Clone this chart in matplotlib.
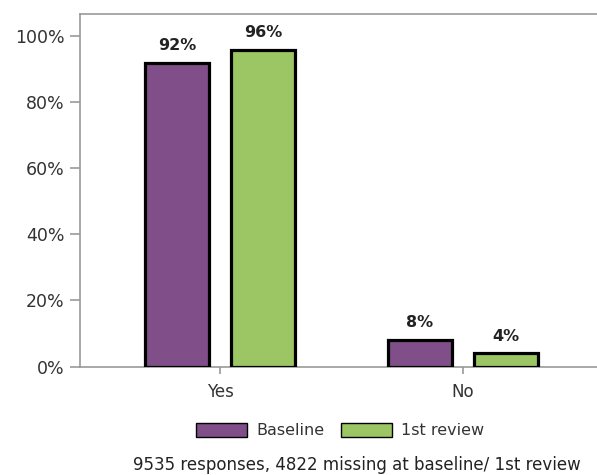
import numpy as np
import matplotlib
matplotlib.use("Agg")
import matplotlib.pyplot as plt

# Data
categories = ["Yes", "No"]
baseline = [92, 8]
first_review = [96, 4]
series_names = ["Baseline", "1st review"]
colors = ["#804E88", "#9BC663"]
footnote = "9535 responses, 4822 missing at baseline/ 1st review"

plt.rcParams["font.family"] = ["DejaVu Sans"]

fig = plt.figure(figsize=(5.97, 4.75), dpi=100)
ax = fig.add_axes([0.134, 0.2284, 0.866, 0.7421])

x = np.arange(len(categories))
offset = 0.177
width = 0.262

bars = []
for vals, off, col, name in zip([baseline, first_review], [-offset, offset], colors, series_names):
    b = ax.bar(x + off, vals, width=width, color=col, edgecolor="black",
               linewidth=2.3, label=name, zorder=3)
    bars.append(b)
    for rect, v in zip(b, vals):
        ax.annotate(f"{v}%", (rect.get_x() + rect.get_width() / 2, v),
                    xytext=(0, 7), textcoords="offset points",
                    ha="center", va="bottom", fontsize=11.5, fontweight="bold",
                    color="#222222")

ax.set_xlim(-0.576, 1.551)
ax.set_ylim(0, 106.8)
ax.set_yticks([0, 20, 40, 60, 80, 100])
ax.set_yticklabels([f"{t}%" for t in [0, 20, 40, 60, 80, 100]])
ax.set_xticks(x)
ax.set_xticklabels(categories)

for s in ["left", "top", "bottom"]:
    ax.spines[s].set_color("#999999")
    ax.spines[s].set_linewidth(1.2)
ax.spines["right"].set_visible(False)

ax.tick_params(axis="y", length=7, width=1.2, color="#999999", labelsize=12.5,
               labelcolor="#333333", pad=4)
ax.tick_params(axis="x", length=5, width=1.2, color="#999999", labelsize=12,
               labelcolor="#333333", pad=7)

leg = fig.legend(handles=bars, labels=series_names, loc="center",
                 bbox_to_anchor=(0.57, 0.093), ncol=2, frameon=False,
                 fontsize=11.5, handlelength=3.2, handleheight=0.9,
                 handletextpad=0.6, columnspacing=1.0)
for h in leg.legend_handles:
    h.set_linewidth(1.0)
for t in leg.get_texts():
    t.set_color("#333333")

fig.text(0.598, 0.021, footnote, ha="center", va="center", fontsize=12,
         color="#222222")

fig.savefig("out.png", dpi=100)
